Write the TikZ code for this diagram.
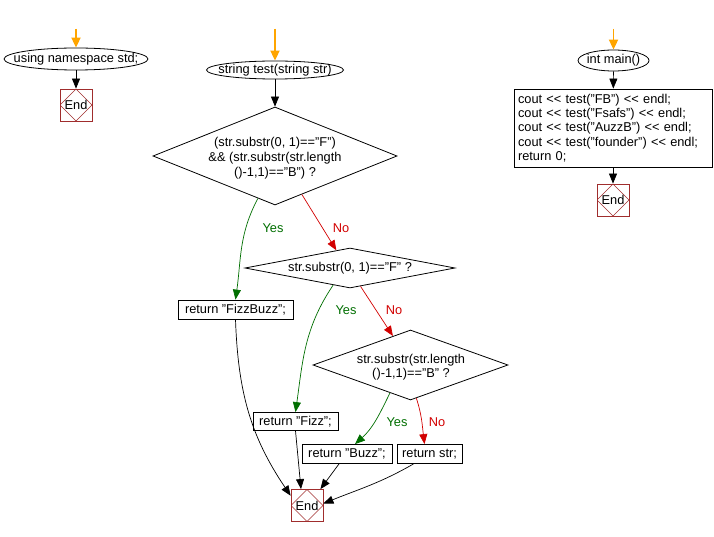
\documentclass[tikz,border=0pt]{standalone}
\usepackage{fontspec}
\setmainfont{Liberation Sans}
\usetikzlibrary{shapes.geometric,arrows.meta,calc}
\definecolor{endred}{RGB}{160,45,45}
\definecolor{yesgreen}{RGB}{0,110,0}
\definecolor{nored}{RGB}{210,0,0}
\definecolor{startor}{RGB}{255,165,0}
\newcommand{\myshl}{{<}{<}}
\begin{document}
\begin{tikzpicture}[x=1pt,y=1pt,
  every node/.style={font=\fontsize{12.8}{15}\selectfont},
  term/.style={draw, ellipse, inner sep=0pt, line width=0.8pt},
  dec/.style={draw, diamond, inner sep=0pt, line width=0.8pt},
  proc/.style={draw, rectangle, inner sep=0pt, line width=0.8pt},
  endbox/.style={draw=endred, rectangle, minimum width=32pt, minimum height=32pt, inner sep=0pt, line width=0.8pt,
    path picture={\draw[endred, line width=0.6pt] (path picture bounding box.north) -- (path picture bounding box.east) -- (path picture bounding box.south) -- (path picture bounding box.west) -- cycle;}},
  arr/.style={-{Triangle[length=10pt,width=8pt]}, line width=0.7pt},
  startarr/.style={-{Triangle[length=10pt,width=9pt]}, line width=1.8pt, draw=startor, fill=startor},
  yesl/.style={text=yesgreen},
  nol/.style={text=nored}]
\useasboundingbox (0,0) rectangle (714,-537);

% ---- using namespace std
\coordinate (s1) at (76,-29);
\node[term, minimum width=144pt, minimum height=22pt] (n1) at (76,-59) {};
\node (n1t) at (n1) {using namespace std;};
\node[endbox] (e1) at (76,-105) {End};
\draw[startarr] (s1) -- (n1.north);
\draw[arr] (n1) -- (e1);

% ---- string test(string str)
\coordinate (s2) at (275,-29);
\node[term, minimum width=137pt, minimum height=18pt] (n2) at (275,-70) {};
\node (n2t) at (n2) {string test(string str)};
\node[dec, minimum width=244pt, minimum height=98pt] (d1) at (275,-156) {};
\node[align=center, font=\fontsize{12.8}{15}\selectfont] (d1t) at (275,-158) {(str.substr(0, 1)=="F")\\\&\& (str.substr(str.length\\()-1,1)=="B") ?};
\node[dec, minimum width=210pt, minimum height=40pt] (d2) at (350,-268) {};
\node (d2t) at (d2) {str.substr(0, 1)=="F" ?};
\node[dec, minimum width=195pt, minimum height=70pt] (d3) at (410.5,-365) {};
\node[align=center, font=\fontsize{12.8}{13.8}\selectfont] (d3t) at (411,-367) {str.substr(str.length\\()-1,1)=="B" ?};
\node[proc, minimum width=115pt, minimum height=19pt] (fb) at (235.5,-309.5) {return "FizzBuzz";};
\node[proc, minimum width=85pt, minimum height=18pt] (fz) at (295.5,-421.5) {return "Fizz";};
\node[proc, minimum width=90pt, minimum height=19pt] (bz) at (347,-454) {return "Buzz";};
\node[proc, minimum width=65pt, minimum height=19pt] (rs) at (429.5,-454) {return str;};
\node[endbox] (e2) at (307,-505.5) {End};

\draw[startarr] (s2) -- (n2.north);
\draw[arr] (n2) -- (d1);
\draw[arr, yesgreen] ($(d1.west)!0.86!(d1.south)$) to[out=-118, in=82] (fb.north);
\draw[arr, nored] ($(d1.south)!0.22!(d1.east)$) -- ($(d2.north)!0.13!(d2.west)$);
\draw[arr, yesgreen] ($(d2.south)!0.16!(d2.west)$) to[out=-124, in=82] (fz.north);
\draw[arr, nored] ($(d2.south)!0.1!(d2.east)$) -- ($(d3.north)!0.18!(d3.west)$);
\draw[arr, yesgreen] ($(d3.south)!0.21!(d3.west)$) to[out=-116, in=42] ($(bz.north)+(8,0)$);
\draw[arr, nored] ($(d3.south)!0.06!(d3.east)$) to[out=-72, in=97] ($(rs.north)+(-5,0)$);
\node[yesl] (y1) at (273,-228) {Yes};
\node[nol] (no1) at (341,-228) {No};
\node[yesl] (y2) at (346,-310) {Yes};
\node[nol] (no2) at (394,-310) {No};
\node[yesl] (y3) at (397,-422) {Yes};
\node[nol] (no3) at (437,-422) {No};

\draw[arr] (fb.south) to[out=-88, in=124] ($(e2.north west)!0.2!(e2.south west)$);
\draw[arr] (fz.south) -- ($(e2.north)+(-6,0)$);
\draw[arr] ($(bz.south)+(-8,0)$) -- ($(e2.north east)+(-3,0)$);
\draw[arr] ($(rs.south)+(-16,0)$) to[out=-150, in=22] ($(e2.east)+(0,2)$);

% ---- int main()
\coordinate (s3) at (613.5,-29);
\node[term, minimum width=71pt, minimum height=21pt] (n3) at (613.5,-60.5) {};
\node (n3t) at (n3) {int main()};
\node[proc, minimum width=198pt, minimum height=78pt, text width=190pt, align=left, inner xsep=4pt, font=\fontsize{12.8}{14.25}\selectfont] (mb) at (613,-128) {cout \myshl{} test("FB") \myshl{} endl;\\cout \myshl{} test("Fsafs") \myshl{} endl;\\cout \myshl{} test("AuzzB") \myshl{} endl;\\cout \myshl{} test("founder") \myshl{} endl;\\return 0;};
\node[endbox] (e3) at (613,-200) {End};
\draw[startarr] (s3) -- (n3.north);
\draw[arr] (n3) -- (mb);
\draw[arr] (mb) -- (e3);
\end{tikzpicture}
\end{document}
